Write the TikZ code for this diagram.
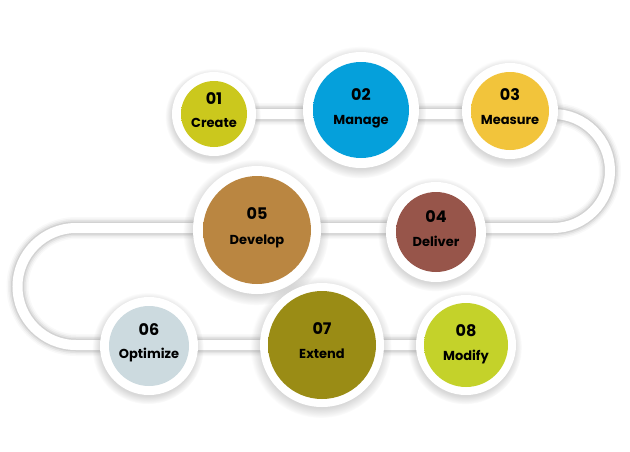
\documentclass[tikz,border=0pt]{standalone}
\usepackage{fontspec}
\setmainfont{Poppins}
\usetikzlibrary{calc,shadows}

\definecolor{cCreate}{HTML}{CBC81D}
\definecolor{cManage}{HTML}{05A0DB}
\definecolor{cMeasure}{HTML}{F2C43B}
\definecolor{cDeliver}{HTML}{97554A}
\definecolor{cDevelop}{HTML}{BA8641}
\definecolor{cOptimize}{HTML}{CCDADF}
\definecolor{cExtend}{HTML}{9A8C15}
\definecolor{cModify}{HTML}{C4D22A}

% flat disk with a dark rim towards the lower left
\pgfdeclareradialshading[rimin,rimout]{rim}{\pgfpoint{4bp}{4bp}}{%
  color(0bp)=(rimin); color(45bp)=(rimin); color(55bp)=(rimout)}

\pgfdeclarelayer{background}
\pgfsetlayers{background,main}

\tikzset{
  ring/.style={circle, fill=white, inner sep=0pt, minimum size=2*#1pt,
    circular drop shadow={shadow xshift=-1pt, shadow yshift=-2pt,
      shadow scale=1.14, opacity=0.3}},
  disk/.style 2 args={path picture={
    \colorlet{rimin}{#2}\colorlet{rimout}{#2!80!black}
    \shade[shading=rim] (path picture bounding box.center) circle[radius=#1pt];}},
  num/.style={anchor=base, font=\bfseries\fontsize{16}{16}\selectfont},
  lab/.style={anchor=base, font=\bfseries\fontsize{13}{13}\selectfont},
}

\begin{document}
\begin{tikzpicture}[x=1pt,y=-1pt]
  \useasboundingbox (0,0) rectangle (630,451);

  \coordinate (rtop) at (553,114);
  \coordinate (ltop) at (76,228);

  \node[ring=42, disk={33}{cCreate}]   (create)   at (214,114) {};
  \node[ring=58, disk={48}{cManage}]   (manage)   at (361,110) {};
  \node[ring=48, disk={39}{cMeasure}]  (measure)  at (510,111) {};
  \node[ring=50, disk={40}{cDeliver}]  (deliver)  at (436,232) {};
  \node[ring=64, disk={54}{cDevelop}]  (develop)  at (257,230) {};
  \node[ring=49, disk={40}{cOptimize}] (optimize) at (149,346) {};
  \node[ring=62, disk={54}{cExtend}]   (extend)   at (322,345) {};
  \node[ring=50, disk={42}{cModify}]   (modify)   at (466,345) {};

  \node[num] (create-n)   at ($(create)+(0,-10)$)   {01};
  \node[lab] (create-l)   at ($(create)+(0,13)$)    {Create};
  \node[num] (manage-n)   at ($(manage)+(0,-10)$)   {02};
  \node[lab] (manage-l)   at ($(manage)+(0,14)$)    {Manage};
  \node[num] (measure-n)  at ($(measure)+(0,-11)$)  {03};
  \node[lab] (measure-l)  at ($(measure)+(0,13)$)   {Measure};
  \node[num] (deliver-n)  at ($(deliver)+(0,-10)$)  {04};
  \node[lab] (deliver-l)  at ($(deliver)+(0,14)$)   {Deliver};
  \node[num] (develop-n)  at ($(develop)+(0,-11)$)  {05};
  \node[lab] (develop-l)  at ($(develop)+(0,14)$)   {Develop};
  \node[num] (optimize-n) at ($(optimize)+(0,-11)$) {06};
  \node[lab] (optimize-l) at ($(optimize)+(0,12)$)  {Optimize};
  \node[num] (extend-n)   at ($(extend)+(0,-11)$)   {07};
  \node[lab] (extend-l)   at ($(extend)+(0,13)$)    {Extend};
  \node[num] (modify-n)   at ($(modify)+(0,-9)$)    {08};
  \node[lab] (modify-l)   at ($(modify)+(0,15)$)    {Modify};

  % the white track with its soft shadow
  \begin{pgfonlayer}{background}
    \fill[white] (0,0) rectangle (630,451);
    \foreach \w/\c/\o in {22/black/0.025, 19/black/0.035, 16/black/0.05, 13/black/0.07, 10/white/1}
      \draw[line width=\w pt, \c, opacity=\o]
        (create.center) -- (rtop) arc[start angle=90, end angle=-90, radius=57pt]
        -- (ltop) arc[start angle=90, end angle=270, radius=58.5pt] -- (modify.center);
  \end{pgfonlayer}
\end{tikzpicture}
\end{document}
